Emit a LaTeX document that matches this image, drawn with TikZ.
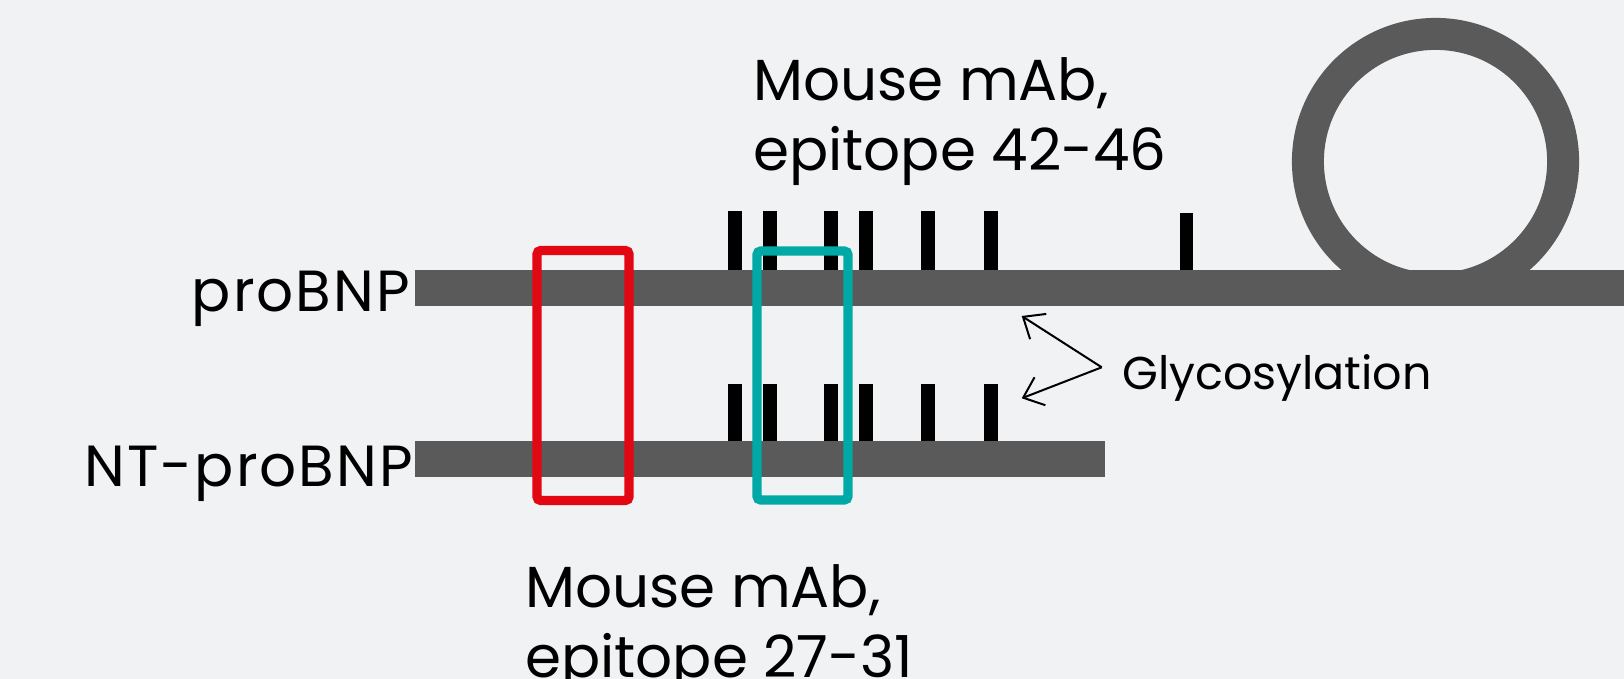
\documentclass[tikz,border=0pt]{standalone}
\usepackage{fontspec}
\setmainfont{Poppins}
\usetikzlibrary{arrows.meta}
\definecolor{bgc}{HTML}{F1F2F4}
\definecolor{barc}{HTML}{5A5A5A}
\definecolor{redc}{HTML}{E30613}
\definecolor{tealc}{HTML}{00A9A5}
\tikzset{
  bigtext/.style={inner sep=0pt, font=\fontsize{58}{70}\selectfont},
  labeltext/.style={inner sep=0pt, font=\fontsize{58}{70}\selectfont\addfontfeature{LetterSpace=3.5}},
  smalltext/.style={inner sep=0pt, font=\fontsize{46}{56}\selectfont},
  barfill/.style={fill=barc, draw=none},
  glyco/.style={fill=black, draw=none},
  epibox/.style={line width=9.4pt, rounded corners=4pt},
  pointer/.style={line width=2pt, -{Straight Barb[length=18pt,width=30pt,line width=2pt]}},
}
\begin{document}
\begin{tikzpicture}[x=1pt,y=-1pt]
\useasboundingbox[fill=bgc] (0,0) rectangle (1624,679);
% loop of proBNP
\draw[barc, line width=32pt] (1435.5,161.5) circle[radius=127.6];
% bars
\fill[barfill] (415,270) rectangle (1624,306);
\fill[barfill] (415,441) rectangle (1105.3,476.7);
\coordinate (proL) at (415,288);
\coordinate (ntL) at (415,459);
% glycosylation sites
\foreach \c in {734.5,769.5,831.3,866.3,927.5,991} {
  \fill[glyco] (\c-7,211) rectangle (\c+7,270);
  \fill[glyco] (\c-7,384) rectangle (\c+7,441);
}
\fill[glyco] (1180,213) rectangle (1193.3,270);
% epitope boxes
\draw[epibox, redc] (537,250.5) rectangle (629,500.5);
\draw[epibox, tealc] (757,251) rectangle (848,500);
% labels
\node[labeltext, anchor=base east] (lpro) at (410,311) {proBNP};
\node[labeltext, anchor=base east] (lnt) at (413,486) {NT-proBNP};
\node[bigtext, anchor=base west] (m1) at (753,101) {Mouse mAb,};
\node[bigtext, anchor=base west] (e1) at (753,171) {epitope 42-46};
\node[bigtext, anchor=base west] (m2) at (525,607) {Mouse mAb,};
\node[bigtext, anchor=base west] (e2) at (525,677) {epitope 27-31};
\node[smalltext, anchor=base west] (gly) at (1122,389) {Glycosylation};
% glycosylation pointers
\coordinate (v) at (1101.7,367.3);
\coordinate (t1) at (1021.7,316);
\coordinate (t2) at (1021.7,398.3);
\draw[pointer] (v) -- (t1);
\draw[pointer] (v) -- (t2);
\end{tikzpicture}
\end{document}
